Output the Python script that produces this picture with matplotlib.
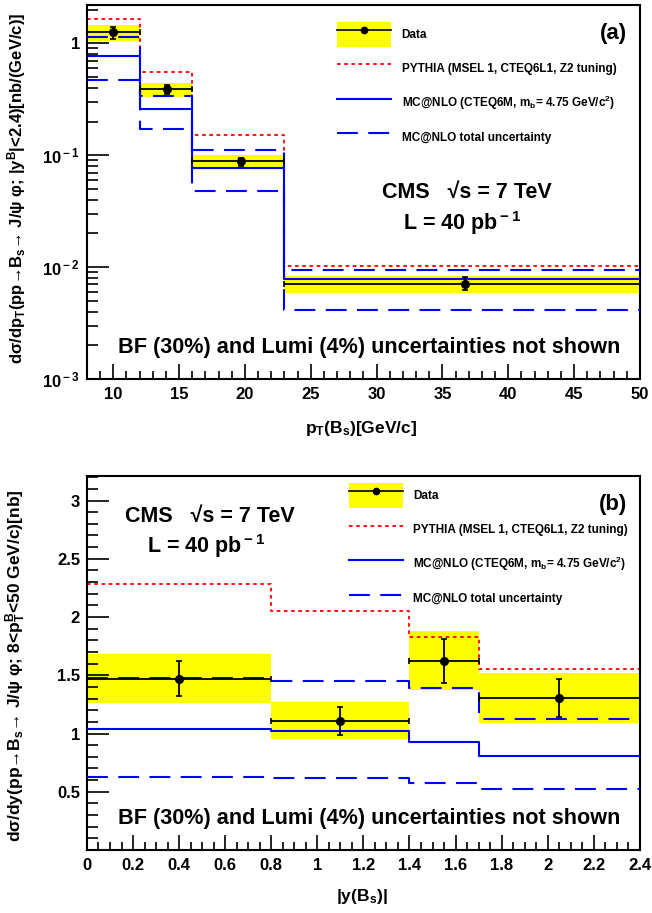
import numpy as np
import matplotlib.pyplot as plt
from matplotlib.patches import Patch
from matplotlib.lines import Line2D
from matplotlib.ticker import FixedLocator, MultipleLocator, LogLocator, NullFormatter

plt.rcParams['font.family'] = ['Liberation Sans', 'DejaVu Sans']
plt.rcParams['font.weight'] = 'bold'
plt.rcParams['axes.labelweight'] = 'bold'
plt.rcParams['mathtext.fontset'] = 'custom'
plt.rcParams['mathtext.rm'] = 'Liberation Sans:bold'
plt.rcParams['mathtext.it'] = 'Liberation Sans:bold'
plt.rcParams['mathtext.bf'] = 'Liberation Sans:bold'
plt.rcParams['mathtext.default'] = 'rm'

# ---- panel (a): pT bins ----
pt_edges = [8, 12, 16, 23, 50]
pt_x = [10.0, 14.1, 19.7, 36.7]
pt_data = [1.26, 0.39, 0.088, 0.0071]
pt_stat_lo = [1.10, 0.35, 0.080, 0.0062]
pt_stat_hi = [1.40, 0.42, 0.095, 0.0081]
pt_band_lo = [1.05, 0.33, 0.0766, 0.0059]
pt_band_hi = [1.46, 0.44, 0.100, 0.0084]
pt_pythia = [1.64, 0.56, 0.152, 0.0103]
pt_mcnlo = [0.77, 0.26, 0.0776, 0.0079]
pt_mc_up = [1.15, 0.34, 0.111, 0.0095]
pt_mc_dn = [0.47, 0.17, 0.048, 0.0041]

# ---- panel (b): |y| bins ----
y_edges = [0.0, 0.8, 1.4, 1.7, 2.4]
y_x = [0.40, 1.10, 1.55, 2.05]
y_data = [1.47, 1.11, 1.62, 1.305]
y_stat_lo = [1.32, 0.99, 1.43, 1.14]
y_stat_hi = [1.62, 1.23, 1.81, 1.465]
y_band_lo = [1.26, 0.954, 1.377, 1.091]
y_band_hi = [1.68, 1.268, 1.877, 1.517]
y_pythia = [2.28, 2.05, 1.83, 1.557]
y_mcnlo = [1.04, 1.02, 0.923, 0.803]
y_mc_up = [1.48, 1.448, 1.388, 1.128]
y_mc_dn = [0.63, 0.614, 0.574, 0.525]

YELLOW = '#ffff00'
BLUE = '#0000ff'
RED = '#ff0000'

legend_labels = ['Data',
                 'PYTHIA (MSEL 1, CTEQ6L1, Z2 tuning)',
                 r'MC@NLO (CTEQ6M, m$_{\rm b}$= 4.75 GeV/c$^{2}$)',
                 'MC@NLO total uncertainty']


def draw_panel(ax, edges, xc, data, slo, shi, blo, bhi, pyth, mc, up, dn):
    edges = np.array(edges)
    widths = np.diff(edges)
    ax.bar(edges[:-1], np.array(bhi) - np.array(blo), bottom=blo, width=widths,
           align='edge', color=YELLOW, lw=0, zorder=1)
    ax.step(edges, list(pyth) + [pyth[-1]], where='post', color=RED, lw=1.3,
            dashes=(2, 2), zorder=2)
    ax.step(edges, list(up) + [up[-1]], where='post', color=BLUE, lw=1.5,
            dashes=(10, 5), zorder=3)
    ax.step(edges, list(dn) + [dn[-1]], where='post', color=BLUE, lw=1.5,
            dashes=(10, 5), zorder=3)
    ax.step(edges, list(mc) + [mc[-1]], where='post', color=BLUE, lw=1.5, zorder=3)
    xc = np.array(xc)
    data = np.array(data)
    xerr = [xc - edges[:-1], edges[1:] - xc]
    yerr = [data - np.array(slo), np.array(shi) - data]
    ax.errorbar(xc, data, xerr=xerr, yerr=yerr, fmt='o', color='black', ms=5.5,
                lw=1.3, capsize=2, capthick=1.2, zorder=4)
    for s in ax.spines.values():
        s.set_linewidth(1.5)
    ax.tick_params(which='both', direction='in', top=False, right=False,
                   labelsize=12, width=1.2)
    ax.set_xlim(edges[0], edges[-1])


def add_legend(ax, x0, y0):
    handles = [(Patch(facecolor=YELLOW, edgecolor='none'),
                Line2D([], [], color='black', lw=1.2, marker='o', ms=4.5)),
               Line2D([], [], color=RED, lw=1.3, dashes=(2, 2)),
               Line2D([], [], color=BLUE, lw=1.5),
               Line2D([], [], color=BLUE, lw=1.5, dashes=(10, 5))]
    ax.legend(handles, legend_labels, loc='upper left', bbox_to_anchor=(x0, y0),
              frameon=False, fontsize=8.5, handlelength=4.55, handleheight=2.84,
              handletextpad=0.9, labelspacing=0.83, borderpad=0, borderaxespad=0)


fig = plt.figure(figsize=(6.52, 9.13), dpi=100)

# panel (a)
ax1 = fig.add_axes([0.1334, 0.5849, 0.848, 0.4096])
draw_panel(ax1, pt_edges, pt_x, pt_data, pt_stat_lo, pt_stat_hi, pt_band_lo,
           pt_band_hi, pt_pythia, pt_mcnlo, pt_mc_up, pt_mc_dn)
ax1.set_yscale('log')
ax1.set_ylim(1e-3, 2.2)
ax1.yaxis.set_major_locator(FixedLocator([1e-3, 1e-2, 1e-1, 1]))
ax1.set_yticklabels([r'10$^{\rm -3}$', r'10$^{\rm -2}$', r'10$^{\rm -1}$', '1'])
ax1.yaxis.set_minor_locator(LogLocator(base=10, subs=np.arange(2, 10)))
ax1.yaxis.set_minor_formatter(NullFormatter())
ax1.xaxis.set_major_locator(MultipleLocator(5))
ax1.xaxis.set_minor_locator(MultipleLocator(1))
ax1.tick_params(axis='y', which='major', length=16, pad=5)
ax1.tick_params(axis='y', which='minor', length=8)
ax1.tick_params(axis='x', which='major', length=11, pad=6)
ax1.tick_params(axis='x', which='minor', length=5.5)
ax1.set_xlabel(r'p$_{\rm T}$(B$_{\rm s}$)[GeV/c]', fontsize=12.5)
ax1.xaxis.set_label_coords(0.495, -0.108)
ax1.set_ylabel(r'dσ/dp$_{\rm T}$(pp→B$_{\rm s}$→ J/ψ φ; |y$^{\rm B}$|<2.4)[nb/(GeV/c)]',
               fontsize=12)
ax1.yaxis.set_label_coords(-0.107, 0.51)
add_legend(ax1, 0.4526, 0.9545)
ax1.text(0.9765, 0.925, '(a)', transform=ax1.transAxes, ha='right', va='center',
         fontsize=16)
ax1.text(0.687, 0.498, 'CMS   √s = 7 TeV', transform=ax1.transAxes,
         ha='center', va='center', fontsize=15.5)
ax1.text(0.678, 0.417, r'L = 40 pb$^{\rm -1}$', transform=ax1.transAxes,
         ha='center', va='center', fontsize=15.5)
ax1.text(0.51, 0.083, 'BF (30%) and Lumi (4%) uncertainties not shown',
         transform=ax1.transAxes, ha='center', va='center', fontsize=15.6)

# panel (b)
ax2 = fig.add_axes([0.1334, 0.069, 0.848, 0.4096])
draw_panel(ax2, y_edges, y_x, y_data, y_stat_lo, y_stat_hi, y_band_lo,
           y_band_hi, y_pythia, y_mcnlo, y_mc_up, y_mc_dn)
ax2.set_ylim(0, 3.21)
ax2.yaxis.set_major_locator(FixedLocator([0.5, 1, 1.5, 2, 2.5, 3]))
ax2.set_yticklabels(['0.5', '1', '1.5', '2', '2.5', '3'])
ax2.yaxis.set_minor_locator(MultipleLocator(0.1))
ax2.xaxis.set_major_locator(MultipleLocator(0.2))
ax2.xaxis.set_minor_locator(MultipleLocator(0.05))
ax2.set_xticklabels(['%g' % v for v in ax2.get_xticks()])
ax2.tick_params(axis='y', which='major', length=16, pad=5)
ax2.tick_params(axis='y', which='minor', length=8)
ax2.tick_params(axis='x', which='major', length=11, pad=6)
ax2.tick_params(axis='x', which='minor', length=5.5)
ax2.set_xlabel(r'|y(B$_{\rm s}$)|', fontsize=12.5)
ax2.xaxis.set_label_coords(0.497, -0.10)
ax2.set_ylabel(r'dσ/dy(pp→B$_{\rm s}$→ J/ψ φ; 8<p$_{\rm T}^{\rm B}$<50 GeV/c)[nb]',
               fontsize=12.5)
ax2.yaxis.set_label_coords(-0.107, 0.492)
add_legend(ax2, 0.474, 0.981)
ax2.text(0.9765, 0.925, '(b)', transform=ax2.transAxes, ha='right', va='center',
         fontsize=16)
ax2.text(0.222, 0.892, 'CMS   √s = 7 TeV', transform=ax2.transAxes,
         ha='center', va='center', fontsize=15.5)
ax2.text(0.215, 0.813, r'L = 40 pb$^{\rm -1}$', transform=ax2.transAxes,
         ha='center', va='center', fontsize=15.5)
ax2.text(0.51, 0.083, 'BF (30%) and Lumi (4%) uncertainties not shown',
         transform=ax2.transAxes, ha='center', va='center', fontsize=15.6)

fig.savefig('out.png', dpi=100)
